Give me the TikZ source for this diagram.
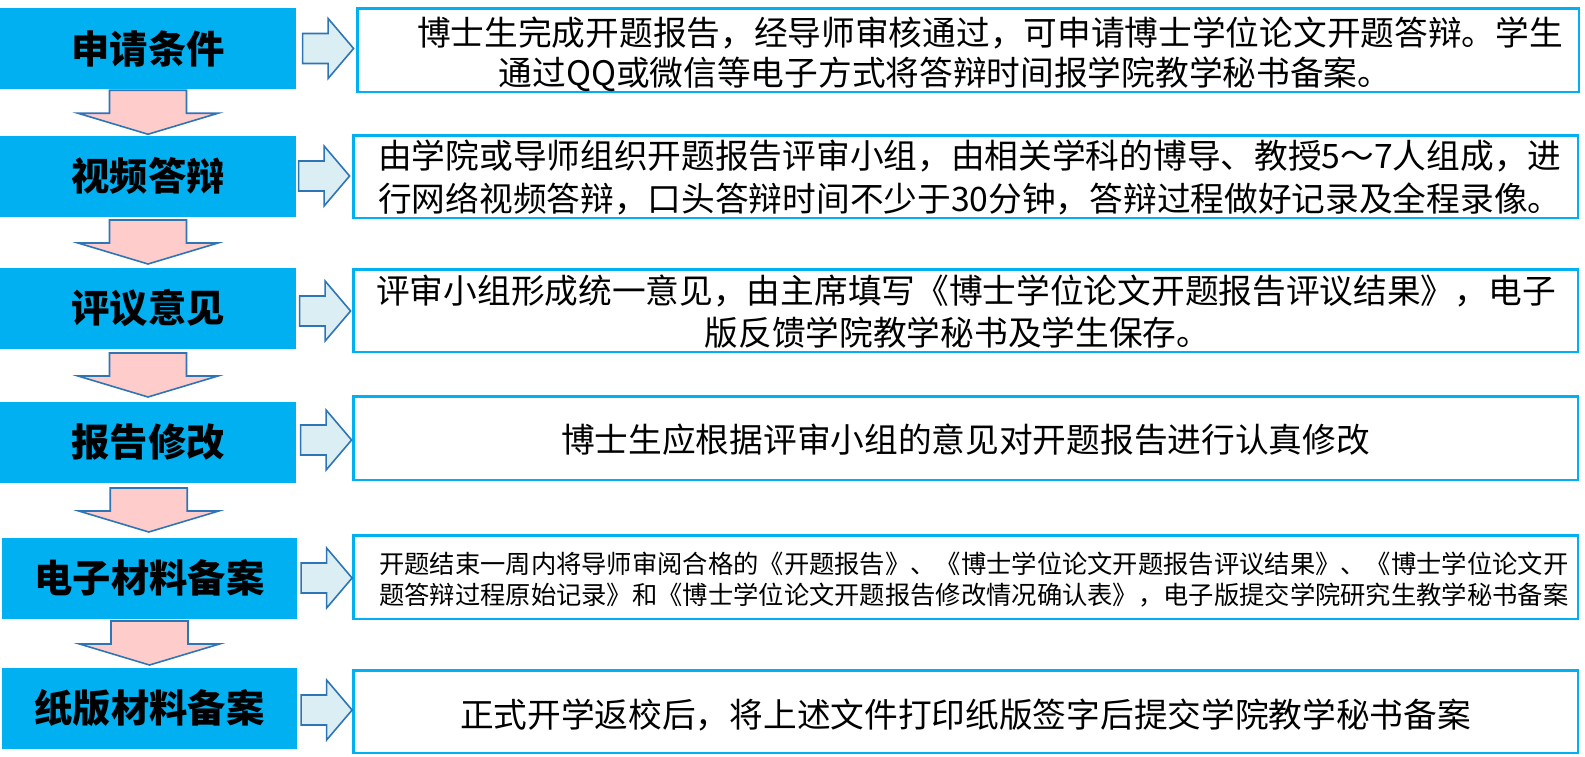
\documentclass[tikz,border=0pt]{standalone}
\usepackage{fontspec}
\setmainfont{Noto Sans CJK SC}
\usetikzlibrary{calc}
\definecolor{cyanbox}{HTML}{00B0F0}
\definecolor{pinkfill}{HTML}{FFCCCC}
\definecolor{arrblue}{HTML}{2E75B6}
\definecolor{lightfill}{HTML}{DAEEF3}
\begin{document}
\begin{tikzpicture}[x=1pt,y=-1pt,
  lab/.style={fill=cyanbox, minimum width=296pt, minimum height=81pt, inner sep=0pt,
    font=\fontsize{38.3}{40}\selectfont\bfseries, text height=33.6pt, text depth=4.6pt},
  tbox/.style={draw=cyanbox, line width=2.5pt, minimum width=1224.5pt, minimum height=82.5pt, inner sep=0pt},
  body/.style={inner sep=0pt, font=\fontsize{33.7}{36}\selectfont, text height=29.6pt, text depth=4pt},
  small/.style={inner sep=0pt, font=\fontsize{25.3}{28}\selectfont, text height=22.2pt, text depth=3pt},
  blockline/.style={draw=arrblue, line width=1.6pt, line join=miter},
  downblock/.pic={\draw[blockline, fill=pinkfill] (-38.5,-22) -- (38.5,-22) -- (38.5,1) -- (70,1) -- (0,22) -- (-70,1) -- (-38.5,1) -- cycle;},
  rightblock/.pic={\draw[blockline, fill=lightfill] (-25.5,-15) -- (0,-15) -- (0,-30) -- (25.5,0) -- (0,30) -- (0,15) -- (-25.5,15) -- cycle;}
]
\useasboundingbox (0,0) rectangle (1585,756);

% left step boxes
\node[lab] (L1) at (148,48.5) {申请条件};
\node[lab] (L2) at (148,176) {视频答辩};
\node[lab] (L3) at (148,308) {评议意见};
\node[lab] (L4) at (148,442) {报告修改};
\node[lab, minimum width=295pt] (L5) at (149.5,578) {电子材料备案};
\node[lab, minimum width=295pt] (L6) at (149.5,708) {纸版材料备案};

% right description boxes
\node[tbox, minimum width=1221.5pt, minimum height=83.5pt] (T1) at (968,50) {};
\node[tbox] (T2) at (965.5,176.5) {};
\node[tbox] (T3) at (965.5,310.5) {};
\node[tbox, minimum height=83.5pt] (T4) at (965.5,438) {};
\node[tbox, minimum height=83.5pt] (T5) at (965.5,577) {};
\node[tbox] (T6) at (965.5,711.5) {};

% texts
\node[body] (t1a) at (990,33) {博士生完成开题报告，经导师审核通过，可申请博士学位论文开题答辩。学生};
\node[body] (t1b) at (945,73) {通过QQ或微信等电子方式将答辩时间报学院教学秘书备案。};
\node[body, anchor=west] (t2a) at (378,156) {由学院或导师组织开题报告评审小组，由相关学科的博导、教授5～7人组成，进};
\node[body, anchor=west] (t2b) at (378,199) {行网络视频答辩，口头答辩时间不少于30分钟，答辩过程做好记录及全程录像。};
\node[body] (t3a) at (966,291) {评审小组形成统一意见，由主席填写《博士学位论文开题报告评议结果》，电子};
\node[body] (t3b) at (957.5,333) {版反馈学院教学秘书及学生保存。};
\node[body] (t4) at (965.5,440) {博士生应根据评审小组的意见对开题报告进行认真修改};
\node[small, anchor=west] (t5a) at (379,564) {开题结束一周内将导师审阅合格的《开题报告》、《博士学位论文开题报告评议结果》、《博士学位论文开};
\node[small, anchor=west] (t5b) at (379,595) {题答辩过程原始记录》和《博士学位论文开题报告修改情况确认表》，电子版提交学院研究生教学秘书备案};
\node[body] (t6) at (965.5,715) {正式开学返校后，将上述文件打印纸版签字后提交学院教学秘书备案};

% down block arrows
\pic (d1) at ($(L1.south)!0.5!(L2.north)$) {downblock};
\pic (d2) at ($(L2.south)!0.5!(L3.north)$) {downblock};
\pic (d3) at ($(L3.south)!0.5!(L4.north)$) {downblock};
\pic (d4) at ($(L4.south)!0.5!(L5.north)$) {downblock};
\pic (d5) at ($(L5.south)!0.5!(L6.north)$) {downblock};

% right block arrows
\pic (r1) at ($(L1.east)!0.5!(T1.west |- L1.east)+(2,0)$) {rightblock};
\pic (r2) at ($(L2.east)!0.5!(T2.west |- L2.east)$) {rightblock};
\pic (r3) at ($(L3.east)!0.5!(T3.west |- L3.east)+(1,3)$) {rightblock};
\pic (r4) at ($(L4.east)!0.5!(T4.west |- L4.east)+(2,-2)$) {rightblock};
\pic (r5) at ($(L5.east)!0.5!(T5.west |- L5.east)+(2,0)$) {rightblock};
\pic (r6) at ($(L6.east)!0.5!(T6.west |- L6.east)+(2,2)$) {rightblock};
\end{tikzpicture}
\end{document}
